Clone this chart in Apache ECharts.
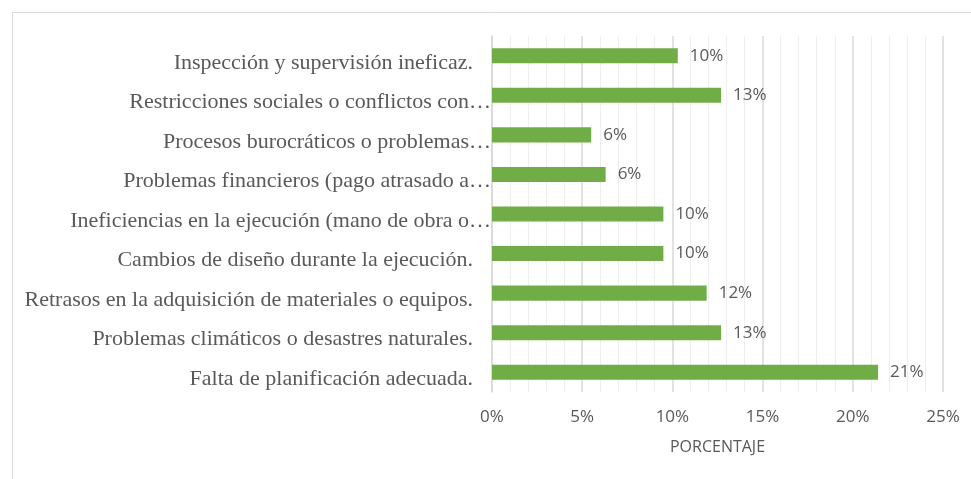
<!DOCTYPE html>
<html>
<head>
<meta charset="utf-8">
<script src="https://cdn.jsdelivr.net/npm/echarts@6/dist/echarts.min.js"></script>
<style>
  html, body { margin: 0; padding: 0; background: #fff; }
  #main { width: 971px; height: 479px; }
</style>
</head>
<body>
<div id="main"></div>
<script>
var app = echarts.init(document.getElementById('main'));

// categories, top to bottom as in the picture
var causas = [
  'Inspección y supervisión ineficaz.',
  'Restricciones sociales o conflictos con…',
  'Procesos burocráticos o problemas…',
  'Problemas financieros (pago atrasado a…',
  'Ineficiencias en la ejecución (mano de obra o…',
  'Cambios de diseño durante la ejecución.',
  'Retrasos en la adquisición de materiales o equipos.',
  'Problemas climáticos o desastres naturales.',
  'Falta de planificación adecuada.'
];
var porcentajes = [0.103, 0.127, 0.055, 0.063, 0.095, 0.095, 0.119, 0.127, 0.214];
var ticks = [0, 0.05, 0.10, 0.15, 0.20, 0.25];

function pct(x) {
  return Math.round(x * 100) + '%';
}

var option = {
    animation: false,
    graphic: [{
        type: 'rect',
        shape: {x: 12.5, y: 12.5, width: 1000, height: 500},
        style: {fill: 'none', stroke: '#d9d9d9', lineWidth: 1},
        silent: true
    }],
    grid: {left: 492, right: 28, top: 36, bottom: 87, containLabel: false},
    xAxis: {
        type: 'value',
        min: ticks[0],
        max: ticks[ticks.length - 1],
        interval: 0.05,
        name: 'PORCENTAJE',
        nameLocation: 'middle',
        nameGap: 47,
        nameTextStyle: {color: '#595959', fontSize: 16, fontFamily: 'Open Sans'},
        axisLine: {show: false},
        axisTick: {show: false},
        axisLabel: {
            color: '#595959', fontSize: 17, fontFamily: 'Open Sans', margin: 17,
            formatter: pct
        },
        splitLine: {show: true, lineStyle: {color: '#d9d9d9', width: 1.5}},
        minorTick: {show: false, splitNumber: 5},
        minorSplitLine: {show: true, lineStyle: {color: '#eeeeee', width: 1}}
    },
    yAxis: {
        type: 'category',
        data: causas,
        inverse: true,
        axisLine: {show: true, lineStyle: {color: '#d9d9d9', width: 1.5}},
        axisTick: {show: false},
        axisLabel: {
            margin: 0,
            formatter: function (v) {
                return v.slice(-1) === '…' ? '{t|' + v + '}' : '{p|' + v + '}';
            },
            rich: {
                t: {color: '#595959', fontSize: 22, fontFamily: 'Liberation Serif', padding: [14, 1, 0, 0]},
                p: {color: '#595959', fontSize: 22, fontFamily: 'Liberation Serif', padding: [14, 19, 0, 0]}
            }
        }
    },
    series: [{
        type: 'bar',
        data: porcentajes,
        barWidth: '38%',
        itemStyle: {color: '#70ad47'},
        label: {
            show: true,
            position: 'right',
            distance: 12,
            color: '#595959',
            fontSize: 17,
            fontFamily: 'Open Sans',
            padding: [4, 0, 0, 0],
            formatter: function (p) { return pct(p.value); }
        }
    }]
};

app.setOption(option);
</script>
</body>
</html>
